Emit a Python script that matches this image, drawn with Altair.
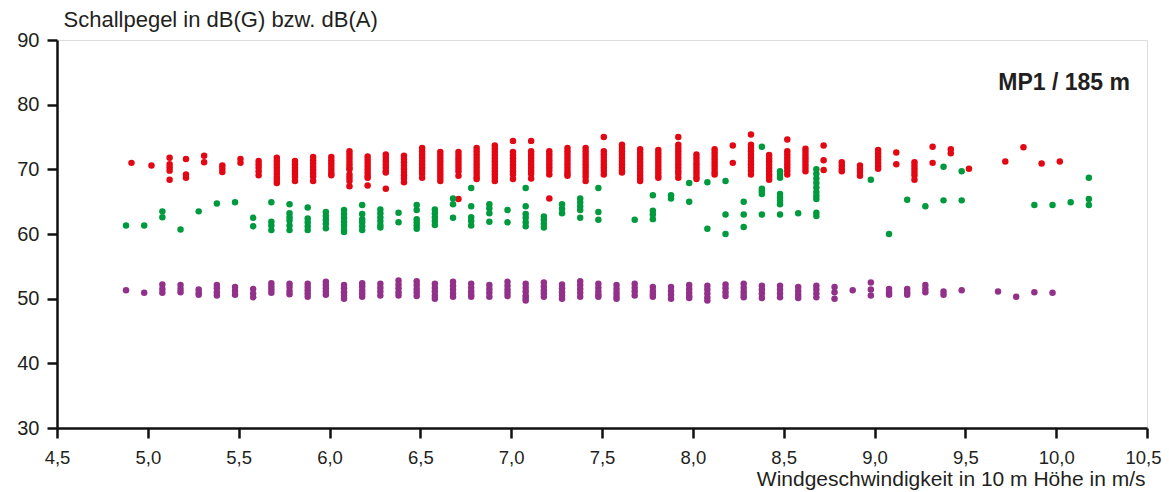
import altair as alt
import pandas as pd

# wind speed column -> list of sound levels (dB)
red_cols = [
    (4.91, [71.0]),
    (5.02, [70.6]),
    (5.12, [71.8, 70.8, 70.3, 69.8, 68.4]),
    (5.21, [71.6, 69.2, 68.7]),
    (5.31, [72.1, 71.1]),
    (5.41, [70.6, 70.1, 69.6]),
    (5.51, [71.6, 71.0]),
    (5.61, [71.3, 70.8, 70.3, 69.7, 69.1]),
    (5.71, [71.8, 71.3, 70.8, 70.3, 69.8, 69.3, 68.8, 68.4, 67.9]),
    (5.81, [71.3, 70.8, 70.3, 69.8, 69.3, 68.8, 68.2]),
    (5.91, [71.9, 71.4, 70.9, 70.4, 69.9, 69.4, 68.9, 68.2]),
    (6.01, [71.9, 71.4, 70.9, 70.4, 69.9, 69.4, 69.1]),
    (6.11, [72.8, 72.3, 71.8, 71.3, 70.8, 70.3, 70.0, 69.2, 68.7, 68.2, 67.4]),
    (6.21, [72.0, 71.5, 71.0, 70.5, 70.0, 69.5, 69.0, 68.7, 67.5]),
    (6.31, [72.3, 71.8, 71.3, 70.8, 70.3, 69.8, 69.5, 67.0]),
    (6.41, [72.1, 71.6, 71.1, 70.6, 70.1, 69.6, 69.1, 68.6, 68.0]),
    (6.51, [73.3, 72.8, 72.3, 71.8, 71.3, 70.8, 70.3, 69.8, 69.3, 68.7]),
    (6.61, [72.7, 72.2, 71.7, 71.2, 70.7, 70.2, 69.7, 69.2, 68.7, 68.2]),
    (6.71, [72.7, 72.2, 71.7, 71.2, 70.7, 70.2, 69.7, 69.0, 65.4]),
    (6.81, [73.3, 72.8, 72.3, 71.8, 71.3, 70.8, 70.3, 69.8, 69.3, 68.8, 68.5]),
    (6.91, [73.7, 73.2, 72.7, 72.2, 71.7, 71.2, 70.7, 70.2, 69.7, 69.2, 68.7, 68.2]),
    (7.01, [74.4, 72.7, 72.2, 71.7, 71.2, 70.7, 70.2, 69.7, 69.2, 68.5]),
    (7.11, [74.4, 72.8, 72.3, 71.8, 71.3, 70.8, 70.3, 69.8, 69.3, 68.6]),
    (7.21, [72.8, 72.3, 71.8, 71.3, 70.8, 70.3, 69.8, 69.2, 65.5]),
    (7.31, [73.3, 72.8, 72.3, 71.8, 71.3, 70.8, 70.3, 69.8, 69.3, 69.0]),
    (7.41, [73.3, 72.8, 72.3, 71.8, 71.3, 70.8, 70.3, 69.8, 69.3, 68.8, 68.2]),
    (7.51, [75.0, 72.8, 72.3, 71.8, 71.3, 70.8, 70.3, 69.8, 69.2]),
    (7.61, [73.8, 73.3, 72.8, 72.3, 71.8, 71.3, 70.8, 70.3, 69.8, 69.5]),
    (7.71, [73.1, 72.6, 72.1, 71.6, 71.1, 70.6, 70.1, 69.6, 69.1, 68.6, 68.2]),
    (7.81, [73.0, 72.5, 72.0, 71.5, 71.0, 70.5, 70.0, 69.5, 69.0, 68.7]),
    (7.92, [75.0, 73.8, 73.3, 72.8, 72.3, 71.8, 71.3, 70.8, 70.3, 69.8, 69.3, 68.7]),
    (8.02, [72.3, 71.8, 71.3, 70.8, 70.3, 69.8, 69.3, 68.8, 68.5]),
    (8.12, [73.1, 72.6, 72.1, 71.6, 71.1, 70.6, 70.1, 69.6, 69.2]),
    (8.22, [73.7, 71.0]),
    (8.32, [75.4, 73.8, 73.3, 72.8, 72.3, 71.8, 71.3, 70.8, 70.3, 69.8, 69.2]),
    (8.42, [72.2, 71.7, 71.2, 70.7, 70.2, 69.7, 69.2, 68.8, 68.4]),
    (8.52, [74.6, 72.8, 72.3, 71.8, 71.3, 70.8, 70.3, 69.8, 69.2]),
    (8.62, [73.2, 72.7, 72.2, 71.7, 71.2, 70.7, 70.2, 69.7]),
    (8.72, [73.7, 71.4, 69.9]),
    (8.82, [71.1, 70.6, 70.1, 69.7]),
    (8.92, [70.6, 70.1, 69.6, 69.0]),
    (9.02, [73.0, 72.5, 72.0, 71.5, 71.0, 70.5, 70.1]),
    (9.12, [72.6, 70.8]),
    (9.22, [71.1, 70.6, 70.1, 69.6, 69.1, 68.4]),
    (9.32, [73.5, 71.0]),
    (9.42, [73.1, 72.5]),
    (9.52, [70.1]),
    (9.72, [71.2]),
    (9.82, [73.4]),
    (9.92, [70.9]),
    (10.02, [71.2]),
]

green_cols = [
    (4.88, [61.3]),
    (4.98, [61.3]),
    (5.08, [63.5, 62.6]),
    (5.18, [60.7]),
    (5.28, [63.5]),
    (5.38, [64.7]),
    (5.48, [64.9]),
    (5.58, [62.5, 61.2]),
    (5.68, [64.9, 61.9, 61.3, 60.6]),
    (5.78, [64.6, 63.2, 62.6, 62.1, 61.3, 60.6]),
    (5.88, [64.1, 62.4, 61.8, 61.2, 60.6]),
    (5.98, [63.4, 62.8, 62.2, 61.6, 60.9]),
    (6.08, [63.7, 63.1, 62.5, 61.9, 61.3, 60.7, 60.3]),
    (6.18, [64.5, 63.1, 62.3, 61.8, 61.2, 60.6]),
    (6.28, [63.8, 63.2, 62.6, 62.0, 61.4, 61.0]),
    (6.38, [63.3, 61.8]),
    (6.48, [64.5, 63.7, 62.3, 61.8, 61.3, 60.8]),
    (6.58, [63.8, 63.2, 62.6, 62.0, 61.4]),
    (6.68, [65.5, 64.6, 62.5]),
    (6.78, [67.1, 64.3, 62.6, 62.0, 61.3]),
    (6.88, [64.6, 64.0, 63.2, 61.9]),
    (6.98, [63.7, 61.8]),
    (7.08, [67.1, 64.3, 63.1, 62.5, 61.8, 61.2]),
    (7.18, [62.7, 62.2, 61.6, 61.0]),
    (7.28, [64.6, 63.9, 63.2]),
    (7.38, [65.5, 64.9, 64.3, 63.7, 62.5]),
    (7.48, [67.1, 63.4, 62.2]),
    (7.68, [62.2]),
    (7.78, [66.0, 63.6, 63.0, 62.3]),
    (7.88, [66.0, 65.5]),
    (7.98, [67.9, 65.0]),
    (8.08, [68.0, 60.8]),
    (8.18, [68.2, 63.0, 60.0]),
    (8.28, [65.0, 63.0, 61.1]),
    (8.38, [73.5, 67.0, 66.6, 66.2, 63.0]),
    (8.48, [69.7, 69.2, 68.7, 66.2, 65.6, 65.1, 64.6, 63.0]),
    (8.58, [63.2]),
    (8.68, [70.0, 69.3, 68.6, 67.9, 67.2, 66.5, 65.9, 65.4, 63.3, 62.8]),
    (8.98, [68.4]),
    (9.08, [60.0]),
    (9.18, [65.3]),
    (9.28, [64.3]),
    (9.38, [70.4, 65.2]),
    (9.48, [69.7, 65.2]),
    (9.88, [64.5]),
    (9.98, [64.5]),
    (10.08, [64.9]),
    (10.18, [68.7, 65.4, 64.5]),
]

purple_cols = [
    (4.88, [51.3]),
    (4.98, [50.9]),
    (5.08, [52.2, 51.5, 50.9]),
    (5.18, [52.1, 51.5, 51.0]),
    (5.28, [51.4, 50.9, 50.6]),
    (5.38, [52.1, 51.6, 51.0, 50.5]),
    (5.48, [51.8, 51.2, 50.6]),
    (5.58, [51.5, 50.8, 50.2]),
    (5.68, [52.4, 51.9, 51.4, 50.9]),
    (5.78, [52.3, 51.8, 51.2, 50.7]),
    (5.88, [52.3, 51.8, 51.3, 50.8, 50.3]),
    (5.98, [52.6, 52.1, 51.6, 51.1, 50.6]),
    (6.08, [52.1, 51.6, 51.0, 50.5, 50.0]),
    (6.18, [52.4, 51.9, 51.3, 50.8, 50.3]),
    (6.28, [52.3, 51.7, 51.1, 50.5]),
    (6.38, [52.8, 52.2, 51.6, 51.0, 50.5]),
    (6.48, [52.7, 52.1, 51.5, 51.0, 50.4]),
    (6.58, [52.3, 51.7, 51.1, 50.5, 50.0]),
    (6.68, [52.6, 52.0, 51.4, 50.8, 50.3]),
    (6.78, [52.3, 51.7, 51.1, 50.6, 50.3]),
    (6.88, [52.1, 51.5, 50.9, 50.3]),
    (6.98, [52.6, 52.0, 51.4, 50.9, 50.4]),
    (7.08, [52.3, 51.7, 51.1, 50.5, 50.1, 49.7]),
    (7.18, [52.5, 51.9, 51.3, 50.8, 50.3]),
    (7.28, [52.2, 51.6, 51.0, 50.5, 50.0]),
    (7.38, [52.7, 52.1, 51.5, 50.9, 50.3]),
    (7.48, [52.3, 51.7, 51.1, 50.6, 50.3]),
    (7.58, [52.1, 51.5, 50.9, 50.4, 50.0]),
    (7.68, [52.3, 51.7, 51.1, 50.5]),
    (7.78, [51.8, 51.2, 50.7, 50.3]),
    (7.88, [51.8, 51.2, 50.6, 50.0]),
    (7.98, [52.1, 51.5, 50.9, 50.4, 50.1]),
    (8.08, [52.0, 51.4, 50.8, 50.2, 49.7]),
    (8.18, [52.2, 51.6, 51.0, 50.4]),
    (8.28, [52.3, 51.7, 51.1, 50.6, 50.2]),
    (8.38, [52.0, 51.4, 50.8, 50.1]),
    (8.48, [52.0, 51.4, 50.8, 50.2]),
    (8.58, [51.8, 51.2, 50.6, 50.1]),
    (8.68, [52.0, 51.4, 50.8, 50.2]),
    (8.78, [51.8, 51.0, 50.0]),
    (8.88, [51.3]),
    (8.98, [52.5, 51.4, 50.5]),
    (9.08, [51.5, 51.0, 50.6]),
    (9.18, [51.5, 51.0, 50.6]),
    (9.28, [52.1, 51.5, 51.0]),
    (9.38, [51.1, 50.6]),
    (9.48, [51.3]),
    (9.68, [51.1]),
    (9.78, [50.3]),
    (9.88, [51.0]),
    (9.98, [50.9]),
]

series_names = ["dB(G) rot", "dB(A) grün", "dB(A) lila"]
series_colors = ["#e30613", "#009a3e", "#92318a"]
x_ticks = [4.5, 5.0, 5.5, 6.0, 6.5, 7.0, 7.5, 8.0, 8.5, 9.0, 9.5, 10.0, 10.5]
y_ticks = [30, 40, 50, 60, 70, 80, 90]

rows = []
for name, cols in zip(series_names, [red_cols, green_cols, purple_cols]):
    for x, ys in cols:
        for y in ys:
            rows.append({"wind": x, "level": y, "serie": name})
df = pd.DataFrame(rows)

INK = "#231f20"

points = alt.Chart(df).mark_circle(size=42, opacity=1).encode(
    x=alt.X(
        "wind:Q",
        scale=alt.Scale(domain=[4.5, 10.5], nice=False, zero=False),
        axis=alt.Axis(
            values=x_ticks,
            labelExpr="replace(format(datum.value, '.1f'), '.', ',')",
            title="Windgeschwindigkeit in 10 m Höhe in m/s",
            titleAlign="right",
            titleAnchor="end",
            titleX=1088,
            titleY=57,
            titleBaseline="alphabetic",
            titleFontSize=21,
            titleFontWeight="normal",
            titleColor=INK,
            titleFont="Liberation Sans",
            labelFont="Liberation Sans",
            labelFontSize=18.5,
            labelColor=INK,
            labelBaseline="alphabetic",
            labelPadding=25,
            labelOffset={"condition": {"test": "datum.value == 10.5", "value": -4}, "value": 0},
            labelFlush=False,
            labelOverlap=False,
            tickSize=10,
            tickWidth=2.5,
            tickColor="#111111",
            domainColor="#111111",
            domainWidth=2.5,
            grid=False,
        ),
    ),
    y=alt.Y(
        "level:Q",
        scale=alt.Scale(domain=[30, 90], nice=False, zero=False),
        axis=alt.Axis(
            values=y_ticks,
            title="Schallpegel in dB(G) bzw. dB(A)",
            titleAngle=0,
            titleAlign="left",
            titleAnchor="start",
            titleX=6,
            titleY=-14,
            titleBaseline="alphabetic",
            titleFontSize=22,
            titleFontWeight="normal",
            titleColor=INK,
            titleFont="Liberation Sans",
            labelFont="Liberation Sans",
            labelFontSize=20,
            labelColor=INK,
            labelPadding=8,
            labelFlush=False,
            tickSize=10,
            tickWidth=2.5,
            tickColor="#111111",
            domainColor="#111111",
            domainWidth=2.5,
            grid=False,
        ),
    ),
    color=alt.Color(
        "serie:N",
        scale=alt.Scale(domain=series_names, range=series_colors),
        legend=None,
    ),
)

label_df = pd.DataFrame({"t": ["MP1 / 185 m"]})
label = alt.Chart(label_df).mark_text(
    align="right", baseline="alphabetic", fontSize=23, fontWeight="bold",
    font="Liberation Sans", color=INK,
).encode(
    text="t:N",
    x=alt.value(1073),
    y=alt.value(50),
)

chart = alt.layer(points, label).properties(
    width=1090,
    height=388,
    padding={"left": 49, "top": 32, "right": 14, "bottom": 64},
    autosize=alt.AutoSizeParams(type="none"),
).configure_view(
    stroke="#3b2b3b",
    strokeWidth=1.5,
).configure(background="white")

chart.save("out.html", embed_options={"renderer": "svg", "actions": False})
